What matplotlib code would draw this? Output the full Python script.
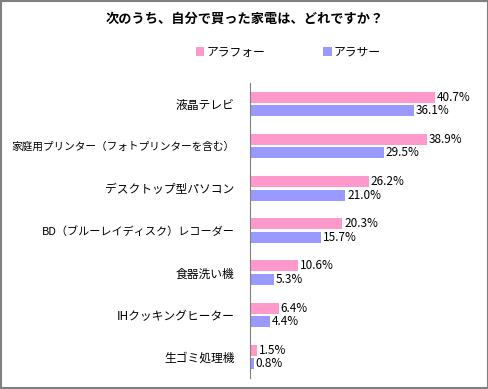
import matplotlib.pyplot as plt
import matplotlib.patches as patches
import numpy as np

plt.rcParams['font.family'] = ['Noto Sans CJK JP', 'DejaVu Sans']

categories = ["液晶テレビ", "家庭用プリンター（フォトプリンターを含む）", "デスクトップ型パソコン",
              "BD（ブルーレイディスク）レコーダー", "食器洗い機", "IHクッキングヒーター", "生ゴミ処理機"]
around40 = [40.7, 38.9, 26.2, 20.3, 10.6, 6.4, 1.5]
around30 = [36.1, 29.5, 21.0, 15.7, 5.3, 4.4, 0.8]
series_names = ["アラフォー", "アラサー"]

pink = "#FF99CC"
blue = "#9999FF"

fig = plt.figure(figsize=(4.89, 3.89), dpi=100)
ax = fig.add_axes([0.511, 0.028, 0.47, 0.759])

y = np.arange(len(categories))
h = 0.26
ax.barh(y - 0.16, around40, height=h, color=pink, label=series_names[0])
ax.barh(y + 0.16, around30, height=h, color=blue, label=series_names[1])

for i in range(len(categories)):
    ax.text(around40[i] + 0.4, y[i] - 0.16, f"{around40[i]:.1f}%", va="center", ha="left", fontsize=8.5)
    ax.text(around30[i] + 0.4, y[i] + 0.16, f"{around30[i]:.1f}%", va="center", ha="left", fontsize=8.5)

ax.set_xlim(0, 50.5)
ax.set_ylim(len(categories) - 0.5, -0.5)
ax.set_yticks(y)
ax.set_yticklabels(categories, fontsize=8.5)
# the long printer label needs a smaller size to fit inside the figure
ax.get_yticklabels()[1].set_fontsize(7.7)
ax.get_yticklabels()[3].set_fontsize(8)
ax.tick_params(axis="y", length=0, pad=11)
ax.set_xticks([])
for s in ["top", "right", "bottom"]:
    ax.spines[s].set_visible(False)
ax.spines["left"].set_color("#808080")

fig.text(0.5, 0.953, "次のうち、自分で買った家電は、どれですか？", ha="center", va="center",
         fontsize=9.5, fontweight="bold")
fig.legend(loc="center", bbox_to_anchor=(0.59, 0.866), ncol=2, frameon=False,
           fontsize=8.5, handlelength=0.7, handleheight=0.7, handletextpad=0.2, columnspacing=4.9)

fig.patches.append(patches.Rectangle((0.002, 0.003), 0.995, 0.994, transform=fig.transFigure,
                                     fill=False, edgecolor="#808080", linewidth=1.5))

fig.savefig("out.png", dpi=100)
